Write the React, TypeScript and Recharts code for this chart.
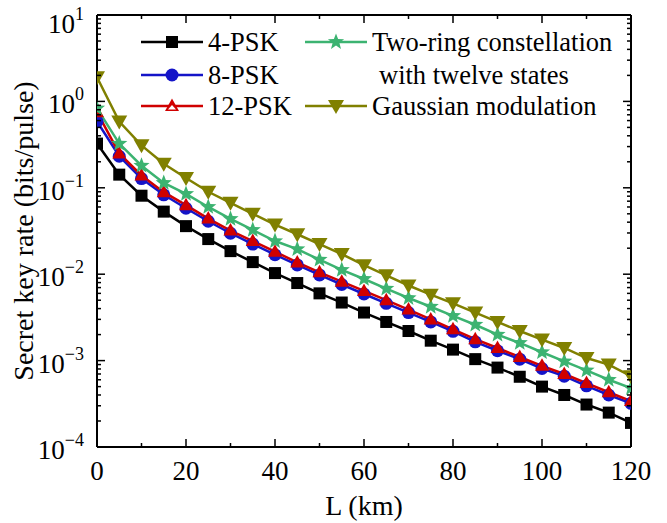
import { LineChart, Line, XAxis, YAxis, Legend } from "recharts";

const distance = [0, 5, 10, 15, 20, 25, 30, 35, 40, 45, 50, 55, 60, 65, 70, 75, 80, 85, 90, 95, 100, 105, 110, 115, 120];

const psk4 = [0.325, 0.142, 0.081, 0.053, 0.036, 0.0255, 0.0185, 0.0138, 0.0103, 0.0079, 0.006, 0.0047, 0.0036, 0.0028, 0.0022, 0.0017, 0.00134, 0.00104, 0.00083, 0.00065, 0.0005, 0.0004, 0.00031, 0.00025, 0.00019];
const psk8 = [0.585, 0.232, 0.128, 0.083, 0.058, 0.041, 0.0298, 0.0223, 0.0168, 0.0128, 0.0098, 0.0076, 0.0059, 0.0046, 0.0036, 0.0028, 0.00218, 0.00165, 0.0013, 0.00104, 0.00081, 0.00066, 0.00051, 0.0004, 0.00032];
const psk12 = [0.75, 0.25, 0.139, 0.089, 0.063, 0.044, 0.032, 0.0242, 0.0182, 0.0137, 0.0105, 0.0082, 0.0064, 0.005, 0.0039, 0.003, 0.0023, 0.00177, 0.0014, 0.0011, 0.00087, 0.0007, 0.00055, 0.00043, 0.00034];
const twoRing = [0.83, 0.325, 0.18, 0.114, 0.085, 0.06, 0.0436, 0.0325, 0.0242, 0.0195, 0.0147, 0.0112, 0.0088, 0.0068, 0.0053, 0.0042, 0.0033, 0.0026, 0.002, 0.0016, 0.00125, 0.00098, 0.00077, 0.0006, 0.00048];
const gaussian = [1.9, 0.585, 0.31, 0.19, 0.13, 0.09, 0.067, 0.05, 0.0375, 0.029, 0.0223, 0.0171, 0.0127, 0.0097, 0.0074, 0.0058, 0.0046, 0.0036, 0.0028, 0.0022, 0.00175, 0.0014, 0.00107, 0.0009, 0.00066];

const xTicks = [0, 10, 20, 30, 40, 50, 60, 70, 80, 90, 100, 110, 120];
const xLabelTicks = [0, 20, 40, 60, 80, 100, 120];
const decadeExponents = [-4, -3, -2, -1, 0, 1];
const decadeLabels = ["−4", "−3", "−2", "−1", "0", "1"];
const minorSteps = [1, 2, 3, 4, 5, 6, 7, 8, 9];

const yTicks = decadeExponents
  .flatMap((e) => (e === 1 ? [10] : minorSteps.map((m) => Number((m * Math.pow(10, e)).toPrecision(3)))));

const data = distance.map((L, i) => ({
  L,
  psk4: psk4[i],
  psk8: psk8[i],
  psk12: psk12[i],
  twoRing: twoRing[i],
  gaussian: gaussian[i],
}));

const FONT = "'Liberation Serif', 'Times New Roman', serif";

type Shape = "square" | "circle" | "triangle" | "star" | "down";

const Marker = ({ cx, cy, shape, color }: { cx: number; cy: number; shape: Shape; color: string }) => {
  if (shape === "square") return <rect x={cx - 6} y={cy - 6} width={12} height={12} fill={color} />;
  if (shape === "circle") return <circle cx={cx} cy={cy} r={6.5} fill={color} />;
  if (shape === "triangle")
    return <polygon points={`${cx},${cy - 7.5} ${cx - 7},${cy + 5} ${cx + 7},${cy + 5}`} fill={color} />;
  if (shape === "down")
    return <polygon points={`${cx - 8},${cy - 6} ${cx + 8},${cy - 6} ${cx},${cy + 8}`} fill={color} />;
  const pts: string[] = [];
  for (let k = 0; k < 10; k++) {
    const r = k % 2 === 0 ? 8.5 : 3.6;
    const a = -Math.PI / 2 + (k * Math.PI) / 5;
    pts.push(`${cx + r * Math.cos(a)},${cy + r * Math.sin(a)}`);
  }
  return <polygon points={pts.join(" ")} fill={color} />;
};

const series = [
  { key: "psk4", name: "4-PSK", color: "#000000", shape: "square" as Shape },
  { key: "psk8", name: "8-PSK", color: "#1414c8", shape: "circle" as Shape },
  { key: "psk12", name: "12-PSK", color: "#d00000", shape: "triangle" as Shape },
  { key: "twoRing", name: "Two-ring constellation|with twelve states", color: "#3cb371", shape: "star" as Shape },
  { key: "gaussian", name: "Gaussian modulation", color: "#808000", shape: "down" as Shape },
];

// legend slots: [lineStart, rowY]
const legendSlots: Record<string, [number, number]> = {
  psk4: [141, 42],
  psk8: [141, 75],
  psk12: [141, 106],
  twoRing: [305, 42],
  gaussian: [305, 106],
};

const LegendBox = () => (
  <svg width={667} height={523} style={{ position: "absolute", left: 0, top: 0 }}>
    {series.map((s) => {
      const [x0, y] = legendSlots[s.key];
      const lines = s.name.split("|");
      return (
        <g key={s.key}>
          <line x1={x0} x2={x0 + 62} y1={y} y2={y} stroke={s.color} strokeWidth={2.5} />
          <Marker cx={x0 + 31} cy={y} shape={s.shape} color={s.color} />
          {s.shape === "triangle" && (
            <polygon points={`${x0 + 31},${y - 1} ${x0 + 27},${y + 3.5} ${x0 + 35},${y + 3.5}`} fill="#fff" />
          )}
          {lines.map((t, j) => (
            <text key={j} x={x0 + 67 + j * 7} y={y + 9 + j * 33} fontSize={26.5} fontFamily={FONT} fill="#000">
              {t}
            </text>
          ))}
        </g>
      );
    })}
  </svg>
);

const BottomTick = ({ x, y, payload }: any) => {
  const major = xLabelTicks.includes(payload.value);
  return (
    <g>
      <line x1={x} x2={x} y1={y} y2={y - (major ? 8 : 4)} stroke="#000" strokeWidth={1.5} />
      {major && (
        <text x={x} y={y + 33} textAnchor="middle" fontSize={27} fontFamily={FONT} fill="#000">
          {payload.value}
        </text>
      )}
    </g>
  );
};

const TopTick = ({ x, y, payload }: any) => {
  const major = xLabelTicks.includes(payload.value);
  return <line x1={x} x2={x} y1={y} y2={y + (major ? 8 : 4)} stroke="#000" strokeWidth={1.5} />;
};

const decadeIndex = (v: number) => decadeExponents.findIndex((e) => Math.abs(Math.pow(10, e) - v) < v * 1e-6);

const LeftTick = ({ x, y, payload }: any) => {
  const d = decadeIndex(payload.value);
  const major = d >= 0;
  // the top label sits a little lower so it stays inside the picture
  const shift = d === decadeExponents.length - 1 ? 6 : 0;
  return (
    <g>
      <line x1={x} x2={x + (major ? 8 : 4)} y1={y} y2={y} stroke="#000" strokeWidth={1.5} />
      {major && (
        <text x={x - 13} y={y + 12 + shift} textAnchor="end" fontSize={27} fontFamily={FONT} fill="#000">
          <tspan>10</tspan>
          <tspan dy={-13} fontSize={18}>{decadeLabels[d]}</tspan>
        </text>
      )}
    </g>
  );
};

const RightTick = ({ x, y, payload }: any) => {
  const major = decadeIndex(payload.value) >= 0;
  return <line x1={x} x2={x - (major ? 8 : 4)} y1={y} y2={y} stroke="#000" strokeWidth={1.5} />;
};

const YTitle = ({ viewBox }: any) => {
  const cy = viewBox.y + viewBox.height / 2;
  return (
    <text x={33} y={cy} transform={`rotate(-90, 33, ${cy})`} textAnchor="middle" fontSize={28} fontFamily={FONT} fill="#000">
      Secret key rate (bits/pulse)
    </text>
  );
};

const XTitle = ({ viewBox }: any) => {
  const cx = viewBox.x + viewBox.width / 2;
  return (
    <text x={cx} y={viewBox.y + 68} textAnchor="middle" fontSize={28} fontFamily={FONT} fill="#000">
      L (km)
    </text>
  );
};

const App = () => {
  return (
    <div style={{ position: "absolute", left: 0, top: 0, width: 667, height: 523, background: "#fff" }}>
      <LineChart width={667} height={523} data={data} margin={{ top: 14, right: 35, bottom: 6, left: 17 }}>
        <XAxis
          dataKey="L"
          type="number"
          domain={[0, 120]}
          ticks={xTicks}
          interval={0}
          allowDataOverflow
          height={70}
          tickSize={0}
          tickMargin={0}
          tickLine={false}
          tick={<BottomTick />}
          axisLine={{ stroke: "#000", strokeWidth: 2 }}
          label={<XTitle />}
        />
        <XAxis
          xAxisId="top"
          orientation="top"
          dataKey="L"
          type="number"
          domain={[0, 120]}
          ticks={xTicks}
          interval={0}
          height={1}
          tickSize={0}
          tickMargin={0}
          tickLine={false}
          tick={<TopTick />}
          axisLine={{ stroke: "#000", strokeWidth: 2 }}
        />
        <YAxis
          type="number"
          scale="log"
          domain={[1e-4, 10]}
          ticks={yTicks}
          interval={0}
          allowDataOverflow
          width={80}
          tickSize={0}
          tickMargin={0}
          tickLine={false}
          tick={<LeftTick />}
          axisLine={{ stroke: "#000", strokeWidth: 2 }}
          label={<YTitle />}
        />
        <YAxis
          yAxisId="right"
          orientation="right"
          type="number"
          scale="log"
          domain={[1e-4, 10]}
          ticks={yTicks}
          interval={0}
          allowDataOverflow
          width={1}
          tickSize={0}
          tickMargin={0}
          tickLine={false}
          tick={<RightTick />}
          axisLine={{ stroke: "#000", strokeWidth: 2 }}
        />
        <Legend
          verticalAlign="middle"
          align="center"
          layout="horizontal"
          wrapperStyle={{ position: "absolute", left: 0, top: 0, width: 667, height: 523, pointerEvents: "none" }}
          content={() => <LegendBox />}
        />
        {series.map((s) => (
          <Line
            key={s.key}
            dataKey={s.key}
            name={s.name}
            stroke={s.color}
            strokeWidth={2.5}
            isAnimationActive={false}
            dot={(p: any) => <Marker key={`${s.key}-${p.index}`} cx={p.cx} cy={p.cy} shape={s.shape} color={s.color} />}
            activeDot={false}
          />
        ))}
      </LineChart>
    </div>
  );
};

export default App;
